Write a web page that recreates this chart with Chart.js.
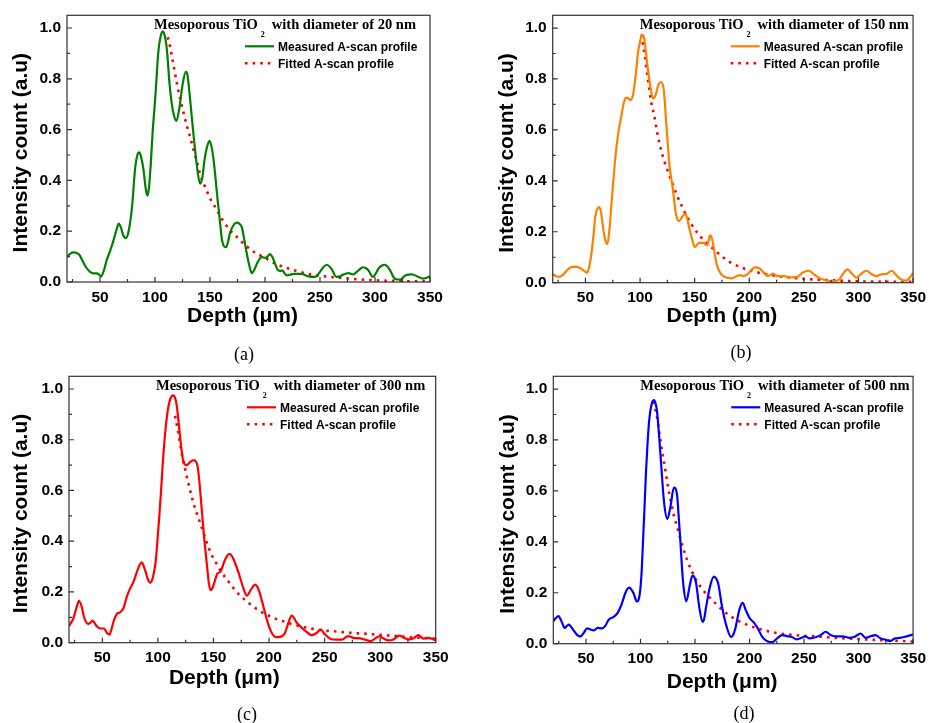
<!DOCTYPE html>
<html>
<head>
<meta charset="utf-8">
<script src="https://cdn.jsdelivr.net/npm/chart.js@4.4.0/dist/chart.umd.min.js"></script>
<style>
  body { margin: 0; background: #fff; }
  #page { position: relative; width: 932px; height: 723px; overflow: hidden; background: #fff; }
  .panel { position: absolute; }
  .panel canvas { display: block; }
  .tag { position: absolute; font: 18px "Liberation Serif", "Times New Roman", serif; color: #000; transform: translate(-50%, -50%); }
</style>
</head>
<body>
<div id="page">
  <div class="panel" style="left:0;top:0"><canvas id="chartA" width="466" height="340"></canvas></div>
  <div class="panel" style="left:466px;top:0"><canvas id="chartB" width="466" height="340"></canvas></div>
  <div class="panel" style="left:0;top:361px"><canvas id="chartC" width="466" height="340"></canvas></div>
  <div class="panel" style="left:466px;top:361px"><canvas id="chartD" width="466" height="340"></canvas></div>
  <div class="tag" style="left:244px;top:354px">(a)</div>
  <div class="tag" style="left:741px;top:352px">(b)</div>
  <div class="tag" style="left:247px;top:714px">(c)</div>
  <div class="tag" style="left:744px;top:713px">(d)</div>
</div>
<script>
// axis ticks
const xTicks = [50, 100, 150, 200, 250, 300, 350];
const yTicks = [0, 0.2, 0.4, 0.6, 0.8, 1.0];

// (a) 20 nm
const depthA = [20, 23, 26, 29, 31, 34, 37, 41, 44, 47, 49, 51, 53.5, 56, 59, 62, 65, 67, 69, 71, 73.5, 76, 79, 82, 84, 85.7, 87.5, 89.6, 91.5, 93, 94.5, 96.3, 98, 100, 101.5, 103, 105, 107, 108.5, 110, 111.5, 113, 115, 117, 119.5, 122, 125, 128, 129.5, 131, 133, 135, 138, 141, 143, 145, 147, 149.6, 151.5, 153, 155, 157, 159, 161, 164.7, 166.5, 168, 172, 175, 177, 179, 181, 183.5, 186, 188, 190.5, 192.6, 197, 200.7, 204.7, 206.5, 208, 212, 214, 216, 218, 220, 226, 233, 239.5, 245.5, 250, 253, 256, 258.5, 260.5, 265, 268, 271, 276, 280, 285, 289, 291.5, 294, 298, 300.5, 303, 306, 309, 311.5, 313.7, 318, 323, 327.5, 333.5, 339.5, 344, 350];
const measuredA = [0.098, 0.112, 0.117, 0.114, 0.108, 0.085, 0.06, 0.04, 0.034, 0.034, 0.03, 0.022, 0.045, 0.085, 0.12, 0.16, 0.205, 0.23, 0.215, 0.185, 0.173, 0.2, 0.29, 0.45, 0.5, 0.51, 0.49, 0.44, 0.37, 0.34, 0.37, 0.475, 0.6, 0.71, 0.81, 0.905, 0.965, 0.987, 0.975, 0.944, 0.88, 0.79, 0.71, 0.66, 0.634, 0.68, 0.775, 0.827, 0.815, 0.76, 0.67, 0.58, 0.46, 0.387, 0.41, 0.48, 0.527, 0.556, 0.53, 0.49, 0.41, 0.32, 0.24, 0.163, 0.137, 0.16, 0.19, 0.228, 0.234, 0.228, 0.215, 0.17, 0.11, 0.06, 0.035, 0.05, 0.072, 0.098, 0.095, 0.11, 0.1, 0.085, 0.046, 0.044, 0.045, 0.033, 0.026, 0.032, 0.032, 0.022, 0.02, 0.04, 0.058, 0.068, 0.062, 0.052, 0.02, 0.022, 0.029, 0.035, 0.03, 0.046, 0.058, 0.055, 0.046, 0.02, 0.032, 0.052, 0.064, 0.068, 0.06, 0.046, 0.013, 0.009, 0.026, 0.03, 0.02, 0.013, 0.022];
const fitDepthA = [111.7, 114, 117, 120, 123, 126, 129, 132, 135, 138, 141, 145, 150, 156, 162, 168, 175, 182, 190, 200, 208, 217, 225, 232, 240, 247, 255, 262, 270, 278, 290, 305, 320, 335, 350];
const fittedA = [0.964, 0.92, 0.85, 0.78, 0.72, 0.665, 0.615, 0.57, 0.52, 0.475, 0.425, 0.38, 0.33, 0.286, 0.24, 0.205, 0.175, 0.145, 0.118, 0.095, 0.075, 0.059, 0.048, 0.039, 0.031, 0.026, 0.022, 0.019, 0.016, 0.013, 0.009, 0.006, 0.004, 0.003, 0.003];

// (b) 150 nm
const depthB = [20, 23, 26, 29, 32, 35, 38, 41, 44, 46.5, 48.6, 51.6, 53, 54.6, 57, 59, 61, 62.7, 64.5, 66, 68, 70, 72, 74, 76.5, 78.7, 80.5, 82.6, 84.5, 86, 88, 89, 91.3, 93.7, 95, 96.7, 98, 99.7, 101.8, 103, 104, 105.5, 107, 109.6, 111.8, 114, 117, 119, 121.4, 122.5, 123.8, 125.3, 126.8, 129.8, 132.8, 135.8, 138.8, 141.5, 143, 144.8, 147.9, 150, 152, 154, 158, 161.4, 162.8, 164, 165.3, 166.8, 168.5, 170.4, 173, 175, 179.5, 184, 188.5, 191.5, 194.5, 199, 202, 205, 209.5, 214, 217, 221.6, 226, 232, 238, 244, 248.6, 254.6, 259, 263.7, 269.7, 275.7, 281.7, 286, 290, 293.8, 298.3, 302.8, 307.3, 311.8, 316.3, 321, 325.4, 330.5, 334.4, 339, 343.6, 348, 350];
const measuredB = [0.034, 0.026, 0.023, 0.03, 0.043, 0.056, 0.0625, 0.062, 0.06, 0.054, 0.047, 0.039, 0.055, 0.089, 0.17, 0.26, 0.29, 0.297, 0.27, 0.22, 0.17, 0.151, 0.21, 0.32, 0.45, 0.544, 0.6, 0.648, 0.695, 0.72, 0.727, 0.725, 0.717, 0.74, 0.78, 0.844, 0.9, 0.94, 0.974, 0.97, 0.954, 0.9, 0.844, 0.766, 0.724, 0.734, 0.78, 0.788, 0.766, 0.72, 0.635, 0.55, 0.466, 0.375, 0.271, 0.242, 0.26, 0.271, 0.255, 0.219, 0.167, 0.14, 0.148, 0.156, 0.156, 0.147, 0.165, 0.186, 0.18, 0.154, 0.11, 0.069, 0.042, 0.03, 0.02, 0.017, 0.026, 0.03, 0.026, 0.036, 0.05, 0.06, 0.056, 0.036, 0.026, 0.036, 0.026, 0.026, 0.021, 0.023, 0.039, 0.047, 0.034, 0.02, 0.01, 0.0065, 0.01, 0.036, 0.052, 0.036, 0.02, 0.036, 0.047, 0.034, 0.026, 0.033, 0.034, 0.047, 0.03, 0.013, 0.008, 0.026, 0.039];
const fitDepthB = [101.2, 102.5, 104.2, 107, 110, 113, 116, 119, 122, 125.3, 129.8, 135.8, 141.8, 147, 152.4, 160, 167.4, 175, 182.5, 191, 200.5, 210, 218.6, 230, 242.6, 257, 272.7, 290, 302.8, 320, 350];
const fittedB = [0.974, 0.94, 0.896, 0.805, 0.714, 0.655, 0.583, 0.525, 0.48, 0.44, 0.388, 0.323, 0.27, 0.23, 0.196, 0.16, 0.132, 0.103, 0.08, 0.063, 0.048, 0.038, 0.031, 0.024, 0.018, 0.013, 0.01, 0.007, 0.005, 0.004, 0.003];

// (c) 300 nm
const depthC = [20, 22, 24, 27, 29, 31.4, 33, 34.4, 37.4, 39.5, 41.3, 43, 45, 48.5, 51.5, 54, 56.3, 58, 59.3, 61, 63, 66, 69, 72, 75, 78, 81.6, 85.4, 87, 89, 91, 93, 95, 96.5, 98, 99, 101.3, 103, 105, 108, 111, 114, 115.5, 117, 118.5, 120, 123, 126, 129, 132.5, 134, 135.5, 137, 138.5, 141.5, 144.5, 146, 147.5, 149, 150.5, 153.5, 156.5, 159.5, 162, 164.4, 166, 168, 172.4, 177, 180, 183.5, 187.4, 189.5, 191.3, 195, 198.5, 202.4, 206.3, 211.4, 214.4, 217.4, 220.4, 222.5, 224.4, 228, 232.4, 238.4, 243, 246.5, 250.4, 255, 261, 265.4, 271.4, 276, 282, 286.4, 291.5, 295.4, 299, 303, 307.4, 312, 317.3, 321.5, 326.3, 330.5, 334.4, 339, 343.4, 348, 350];
const measuredC = [0.065, 0.08, 0.097, 0.142, 0.165, 0.142, 0.11, 0.09, 0.074, 0.08, 0.087, 0.078, 0.065, 0.056, 0.056, 0.039, 0.032, 0.05, 0.071, 0.095, 0.113, 0.12, 0.136, 0.181, 0.214, 0.24, 0.285, 0.317, 0.305, 0.278, 0.25, 0.237, 0.25, 0.278, 0.32, 0.369, 0.5, 0.61, 0.745, 0.887, 0.959, 0.975, 0.965, 0.933, 0.875, 0.81, 0.712, 0.7, 0.712, 0.72, 0.715, 0.7, 0.65, 0.576, 0.42, 0.29, 0.23, 0.207, 0.215, 0.233, 0.272, 0.281, 0.317, 0.34, 0.35, 0.345, 0.33, 0.278, 0.214, 0.185, 0.207, 0.229, 0.22, 0.2, 0.142, 0.084, 0.039, 0.022, 0.025, 0.039, 0.078, 0.107, 0.098, 0.082, 0.065, 0.048, 0.03, 0.039, 0.052, 0.032, 0.016, 0.012, 0.012, 0.026, 0.019, 0.017, 0.012, 0.006, 0.016, 0.025, 0.017, 0.009, 0.013, 0.028, 0.019, 0.013, 0.019, 0.03, 0.016, 0.019, 0.013, 0.009];
const fitDepthC = [115.4, 117, 118.5, 120, 121.5, 124, 126, 129, 132, 135, 138, 141, 144, 148, 153, 157, 162, 168, 174, 180, 186, 192, 198, 205, 213, 220, 228, 235, 243, 250, 258, 265, 273, 288, 303, 318, 333, 350];
const fittedC = [0.894, 0.86, 0.823, 0.785, 0.745, 0.695, 0.654, 0.6, 0.55, 0.51, 0.473, 0.434, 0.395, 0.35, 0.31, 0.28, 0.25, 0.215, 0.186, 0.162, 0.142, 0.124, 0.11, 0.096, 0.084, 0.074, 0.065, 0.058, 0.052, 0.048, 0.045, 0.042, 0.039, 0.035, 0.03, 0.025, 0.02, 0.016];

// (d) 500 nm
const depthD = [20, 22.4, 24.8, 27.5, 30.5, 32.5, 34.4, 36, 38, 42, 45, 48, 51, 54, 57, 60.6, 64.5, 67.5, 71, 75, 79, 82.5, 86, 88, 90, 92, 93.6, 96.6, 98, 99.6, 101, 102, 103.5, 105, 106.5, 108, 111, 112.6, 114, 115, 116.8, 118.6, 121.6, 124.6, 127.6, 130.6, 132, 133.6, 135, 136.6, 138, 139.6, 142, 144.7, 146.5, 148, 149.5, 151, 154, 157, 158.5, 160, 163.7, 167.3, 169.5, 171.2, 175, 179.3, 183.2, 185, 187.1, 190.7, 193.7, 196.7, 200.3, 204.2, 207.3, 211.8, 216.3, 220.8, 225.3, 229.8, 234.3, 238.8, 243.3, 247.8, 250.8, 255.3, 261.3, 265.9, 269.8, 274.3, 279.4, 285.4, 291.4, 295.9, 301.9, 306.4, 310.9, 315.4, 319.9, 324.4, 328.9, 333.5, 338, 344, 350];
const measuredD = [0.088, 0.101, 0.108, 0.088, 0.062, 0.07, 0.075, 0.068, 0.056, 0.034, 0.029, 0.043, 0.06, 0.056, 0.052, 0.062, 0.06, 0.069, 0.095, 0.104, 0.121, 0.153, 0.198, 0.215, 0.22, 0.21, 0.198, 0.166, 0.17, 0.205, 0.28, 0.374, 0.52, 0.672, 0.79, 0.879, 0.951, 0.957, 0.94, 0.918, 0.83, 0.724, 0.555, 0.49, 0.542, 0.613, 0.61, 0.581, 0.5, 0.4, 0.3, 0.218, 0.166, 0.218, 0.255, 0.267, 0.26, 0.237, 0.14, 0.086, 0.1, 0.14, 0.224, 0.263, 0.255, 0.237, 0.14, 0.062, 0.026, 0.035, 0.062, 0.134, 0.16, 0.13, 0.099, 0.082, 0.062, 0.026, 0.01, 0.006, 0.021, 0.034, 0.03, 0.026, 0.017, 0.023, 0.029, 0.021, 0.026, 0.036, 0.047, 0.034, 0.029, 0.029, 0.023, 0.026, 0.04, 0.023, 0.029, 0.034, 0.021, 0.016, 0.01, 0.021, 0.023, 0.029, 0.036];
const fitDepthD = [112, 113.5, 115.6, 117, 118.6, 120, 121.6, 124, 126.1, 128.5, 130.6, 133.5, 136.6, 139.5, 142.6, 147, 151.6, 157, 163.7, 170, 175.7, 183, 190.7, 198, 205.7, 215, 223.8, 232, 241.8, 250, 259.8, 270, 277.9, 290, 301.9, 315, 325.9, 338, 350];
const fittedD = [0.951, 0.92, 0.879, 0.835, 0.788, 0.75, 0.711, 0.65, 0.594, 0.545, 0.503, 0.46, 0.412, 0.37, 0.33, 0.285, 0.246, 0.212, 0.18, 0.153, 0.13, 0.107, 0.088, 0.074, 0.062, 0.051, 0.043, 0.038, 0.034, 0.031, 0.029, 0.026, 0.023, 0.02, 0.018, 0.015, 0.013, 0.011, 0.008];

const FIT_COLOR = '#ff0000';
const FIT_DASH = [2.6, 5];
const SANS = "'Liberation Sans', Arial, sans-serif";
const SERIF = "'Liberation Serif', 'Times New Roman', serif";

const panels = [
  { id: 'chartA', depth: depthA, measured: measuredA, fitDepth: fitDepthA, fitted: fittedA, color: '#008000', diameter: 20,
    area: { left: 67, top: 13, right: 430, bottom: 282 }, yTitleDx: 46, xTitleShift: -6, xTitleDy: 34 },
  { id: 'chartB', depth: depthB, measured: measuredB, fitDepth: fitDepthB, fitted: fittedB, color: '#ff8000', diameter: 150,
    area: { left: 86.7, top: 13.3, right: 452.3, bottom: 282.7 }, yTitleDx: 45, xTitleShift: -11, xTitleDy: 34 },
  { id: 'chartC', depth: depthC, measured: measuredC, fitDepth: fitDepthC, fitted: fittedC, color: '#ff0000', diameter: 300,
    area: { left: 69, top: 12.3, right: 435.7, bottom: 281.7 }, yTitleDx: 48, xTitleShift: -28, xTitleDy: 35.5 },
  { id: 'chartD', depth: depthD, measured: measuredD, fitDepth: fitDepthD, fitted: fittedD, color: '#0000ff', diameter: 500,
    area: { left: 87.3, top: 13.3, right: 453.3, bottom: 282.7 }, yTitleDx: 45, xTitleShift: -11, xTitleDy: 39 }
];

const toPoints = (xs, ys) => xs.map((x, i) => ({ x: x, y: ys[i] }));

// frame, inward ticks, axis titles, inner title and legend
const panelDecor = {
  id: 'panelDecor',
  afterDraw(chart, args, opts) {
    const { ctx, chartArea: a, scales: { x, y } } = chart;
    ctx.save();

    ctx.strokeStyle = '#333';
    ctx.lineWidth = 1.2;
    ctx.strokeRect(a.left, a.top, a.right - a.left, a.bottom - a.top);

    ctx.beginPath();
    xTicks.forEach(v => {
      const px = x.getPixelForValue(v);
      ctx.moveTo(px, a.bottom); ctx.lineTo(px, a.bottom - 5);
      const mx = x.getPixelForValue(v - 25);
      ctx.moveTo(mx, a.bottom); ctx.lineTo(mx, a.bottom - 3);
    });
    yTicks.forEach((v, i) => {
      const py = y.getPixelForValue(v);
      ctx.moveTo(a.left, py); ctx.lineTo(a.left + 5, py);
      if (i > 0) {
        const my = y.getPixelForValue(v - 0.1);
        ctx.moveTo(a.left, my); ctx.lineTo(a.left + 3, my);
      }
    });
    ctx.stroke();

    // axis titles
    ctx.fillStyle = '#000';
    ctx.font = 'bold 21px ' + SANS;
    ctx.textAlign = 'center';
    ctx.textBaseline = 'middle';
    ctx.fillText('Depth (\u03bcm)', (a.left + a.right) / 2 + opts.xTitleShift, a.bottom + opts.xTitleDy);
    ctx.save();
    ctx.translate(a.left - opts.yTitleDx, (a.top + a.bottom) / 2 + 4);
    ctx.rotate(-Math.PI / 2);
    ctx.fillText('Intensity count (a.u)', 0, 0);
    ctx.restore();

    // inner title with subscript
    ctx.textAlign = 'left';
    ctx.textBaseline = 'alphabetic';
    let tx = a.left + 87;
    const ty = a.top + 14;
    ctx.font = 'bold 14.5px ' + SERIF;
    ctx.fillText('Mesoporous TiO', tx, ty);
    tx += ctx.measureText('Mesoporous TiO').width + 3;
    ctx.font = 'bold 8px ' + SERIF;
    ctx.fillText('2', tx, ty + 8);
    tx += ctx.measureText('2').width + 7;
    ctx.font = 'bold 14.5px ' + SERIF;
    ctx.fillText('with diameter of ' + opts.diameter + ' nm', tx, ty);

    // legend
    const lx = a.left + 178;
    const rows = [
      { label: 'Measured A-scan profile', color: opts.color, dash: [], width: 2.2 },
      { label: 'Fitted A-scan profile', color: FIT_COLOR, dash: FIT_DASH, width: 2.6 }
    ];
    ctx.font = 'bold 12px ' + SANS;
    ctx.textBaseline = 'middle';
    rows.forEach((r, i) => {
      const ly = a.top + 31 + i * 17;
      ctx.beginPath();
      ctx.setLineDash(r.dash);
      ctx.strokeStyle = r.color;
      ctx.lineWidth = r.width;
      ctx.moveTo(lx, ly); ctx.lineTo(lx + 29, ly);
      ctx.stroke();
      ctx.setLineDash([]);
      ctx.fillStyle = '#000';
      ctx.fillText(r.label, lx + 33, ly + 1);
    });

    ctx.restore();
  }
};

function buildChart(p) {
  const canvas = document.getElementById(p.id);
  const W = canvas.width, H = canvas.height;
  const tickFont = { family: SANS, size: 15.5, weight: 'bold' };
  return new Chart(canvas, {
    type: 'line',
    data: {
      datasets: [
        {
          label: 'Measured A-scan profile',
          data: toPoints(p.depth, p.measured),
          borderColor: p.color,
          borderWidth: 2.2,
          pointRadius: 0,
          cubicInterpolationMode: 'monotone'
        },
        {
          label: 'Fitted A-scan profile',
          data: toPoints(p.fitDepth, p.fitted),
          borderColor: FIT_COLOR,
          borderWidth: 2.6,
          borderDash: FIT_DASH,
          pointRadius: 0,
          cubicInterpolationMode: 'monotone'
        }
      ]
    },
    options: {
      responsive: false,
      animation: false,
      devicePixelRatio: 1,
      layout: { padding: { left: p.area.left - 67, top: p.area.top, right: W - p.area.right, bottom: 0 } },
      plugins: {
        legend: { display: false },
        tooltip: { enabled: false },
        panelDecor: { color: p.color, diameter: p.diameter, yTitleDx: p.yTitleDx, xTitleShift: p.xTitleShift, xTitleDy: p.xTitleDy }
      },
      scales: {
        x: {
          type: 'linear',
          min: 20,
          max: 350,
          afterBuildTicks: s => { s.ticks = xTicks.map(v => ({ value: v })); },
          afterFit: s => { s.height = H - p.area.bottom; },
          grid: { display: false, drawTicks: false },
          border: { display: false },
          ticks: { font: tickFont, color: '#000', padding: 6, maxRotation: 0, autoSkip: false }
        },
        y: {
          min: 0,
          max: 1.05,
          afterBuildTicks: s => { s.ticks = yTicks.map(v => ({ value: v })); },
          afterFit: s => { s.width = 67; },
          grid: { display: false, drawTicks: false },
          border: { display: false },
          ticks: { font: tickFont, color: '#000', padding: 6, callback: v => v.toFixed(1) }
        }
      }
    },
    plugins: [panelDecor]
  });
}

panels.forEach(buildChart);
</script>
</body>
</html>
